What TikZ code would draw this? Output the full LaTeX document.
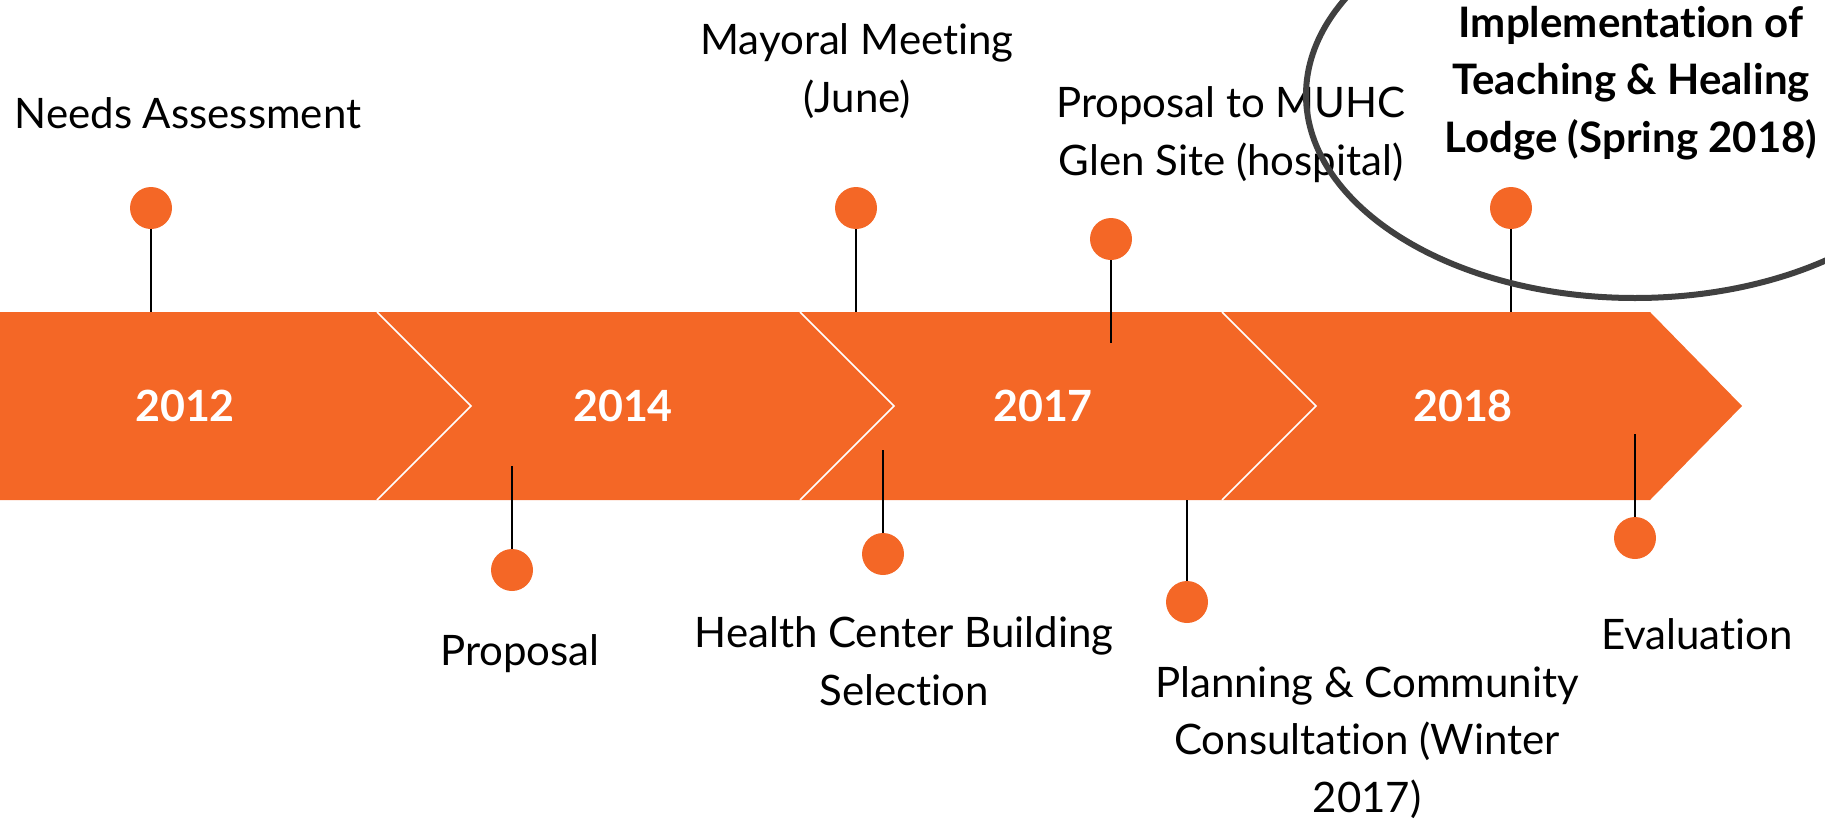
\documentclass[tikz,border=0pt]{standalone}
\usepackage{fontspec}
\setmainfont{Lato}[Ligatures={NoCommon}]
\newcommand\brk{\kern0pt{}}
\definecolor{tlorange}{RGB}{244,103,38}
\definecolor{ringgray}{RGB}{64,64,64}
\begin{document}
\begin{tikzpicture}[x=1pt,y=-1pt,
  evt/.style={font=\fontsize{42}{57.5}\selectfont, align=center, anchor=base, inner sep=0pt},
  evtb/.style={font=\fontsize{42}{57.5}\selectfont\bfseries, align=center, anchor=base, inner sep=0pt},
  yr/.style={font=\fontsize{43}{50}\selectfont\bfseries, text=white, anchor=base, inner sep=0pt},
  dot/.style={circle, fill=tlorange, minimum size=42pt, inner sep=0pt},
  stem/.style={line width=1.5pt, black},
  sep/.style={white, line width=1.5pt}]
\useasboundingbox (0,0) rectangle (1825,819);
\begin{scope}
\clip (0,0) rectangle (1825,819);
% arrow bar
\fill[tlorange] (0,312) -- (1650,312) -- (1742,406) -- (1650,500) -- (0,500) -- cycle;
\draw[sep] (377,312) -- (471,406) -- (377,500);
\draw[sep] (800,312) -- (894,406) -- (800,500);
\draw[sep] (1222,312) -- (1316,406) -- (1222,500);
% years
\node[yr] (y2012) at (185,421) {2012};
\node[yr] (y2014) at (623,421) {2014};
\node[yr] (y2017) at (1043,421) {2017};
\node[yr] (y2018) at (1463,421) {2018};
% stem ends
\coordinate (c1) at (151,312);
\coordinate (c2) at (512,466);
\coordinate (c3) at (856,312);
\coordinate (c4) at (883,450);
\coordinate (c5) at (1111,343);
\coordinate (c6) at (1187,500);
\coordinate (c7) at (1511,312);
\coordinate (c8) at (1635,434);
% dots
\node[dot] (d1) at (151,208) {};
\node[dot] (d2) at (512,570) {};
\node[dot] (d3) at (856,208) {};
\node[dot] (d4) at (883,554) {};
\node[dot] (d5) at (1111,239) {};
\node[dot] (d6) at (1187,602) {};
\node[dot] (d7) at (1511,208) {};
\node[dot] (d8) at (1635,538) {};
\foreach \i in {1,...,8} {\draw[stem] (d\i) -- (c\i);}
% labels
\node[evt] (tNeeds) at (188,128) {Needs Assessment};
\node[evt] (tMayor) at (857,112) {Mayoral Meet\brk ing\\(June)};
\node[evt] (tMuhc) at (1231,175) {Proposal to MUHC\\Glen Site (hospital)};
\node[evtb] (tImpl) at (1631,152) {Implementat\brk ion of\\Teaching \& Healing\\Lodge (Spring 2018)};
\node[evt] (tProp) at (520,665) {Proposal};
\node[evt] (tHealth) at (904,705) {Health Center Building\\Select\brk ion};
\node[evt] (tPlan) at (1367,812) {Planning \& Community\\Consultat\brk ion (Winter\\2017)};
\node[evt] (tEval) at (1697,649) {Evaluat\brk ion};
% highlight ring
\draw[ringgray, line width=6pt] (1635,95) ellipse [x radius=329pt, y radius=203pt];
\end{scope}
\end{tikzpicture}
\end{document}
